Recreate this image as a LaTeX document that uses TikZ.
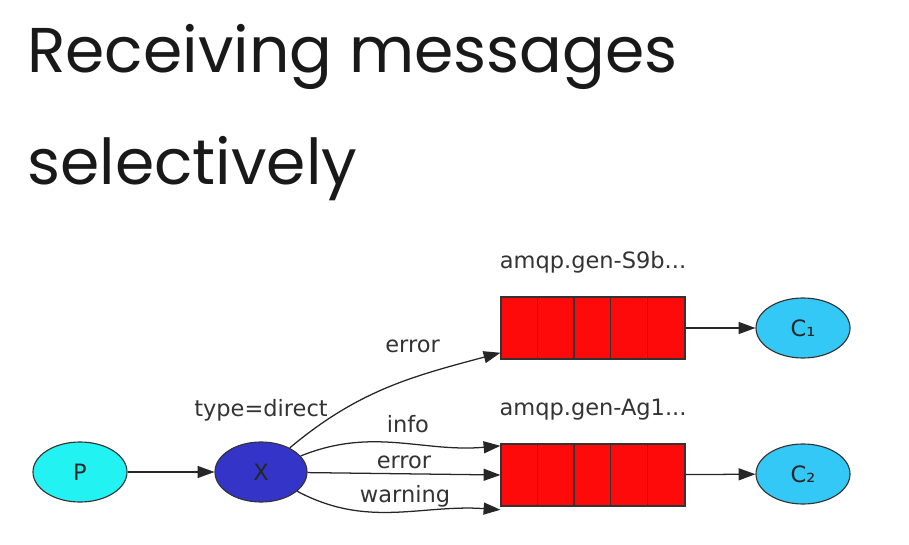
\documentclass[tikz,border=0pt]{standalone}
\usepackage{fontspec}
\setmainfont{DejaVu Sans}
\newfontfamily\titlefont{Poppins}
\usetikzlibrary{shapes.geometric,arrows.meta,positioning}

\definecolor{prodcyan}{HTML}{22F2F2}
\definecolor{exchblue}{HTML}{3434C8}
\definecolor{conscyan}{HTML}{33C8F5}
\definecolor{queuered}{HTML}{FF0A0A}

\begin{document}
\begin{tikzpicture}[
    x=0.025cm, y=-0.025cm,
    peer/.style={ellipse, draw=black!80, line width=0.8pt, minimum width=2.35cm,
                 minimum height=1.5cm, font=\fontsize{16}{19}\selectfont, text=black!85},
    queue/.style={rectangle, draw=black!80, line width=0.8pt, fill=queuered,
                  minimum width=4.6cm, minimum height=1.55cm},
    lbl/.style={font=\fontsize{16}{19}\selectfont, text=black!80, inner sep=2pt},
    link/.style={-{Triangle[length=4.2mm,width=3mm]}, line width=0.9pt, black!85}
  ]
    \useasboundingbox (0,0) rectangle (909,545);

    \node[anchor=base west, align=left, inner sep=0pt,
          font=\titlefont\fontsize{45}{80}\selectfont, text=black!90]
      (title) at (27,185) {Receiving messages\\selectively};

    \node[peer, fill=prodcyan] (p) at (80,472) {P};
    \node[peer, fill=exchblue, minimum width=2.3cm] (x) at (261,472) {X};
    \node[queue] (q1) at (593,328) {};
    \node[queue] (q2) at (593,475) {};
    \node[peer, fill=conscyan] (c1) at (803,328) {C₁};
    \node[peer, fill=conscyan] (c2) at (803,474) {C₂};

    \node[lbl, above=0.42cm of x] (xname) {type=direct};
    \node[lbl, above=0.5cm of q1] (q1name) {amqp.gen-S9b...};
    \node[lbl, above=0.5cm of q2] (q2name) {amqp.gen-Ag1...};

    % cells of the queues
    \foreach \q in {q1,q2}
      \foreach \i in {1,...,4}
        \draw[black!80, line width=0.8pt] ([xshift=\i*0.92cm]\q.north west) -- ([xshift=\i*0.92cm]\q.south west);

    \draw[link] (p) -- (x);
    \draw[link] (x) to[out=40, in=195]
      node[lbl, pos=0.62, above=0.55cm] {error} ([yshift=0.17cm]q1.south west);
    \draw[link] (x) to[out=22, in=185]
      node[lbl, pos=0.55, above=5pt] {info} ([yshift=-0.06cm]q2.north west);
    \draw[link] (x) -- node[lbl, above=1pt] {error} (q2.west);
    \draw[link] (x) to[out=-28, in=176]
      node[lbl, pos=0.55, above=1pt] {warning} ([yshift=-0.08cm]q2.south west);

    \draw[link] (q1) -- (c1);
    \draw[link] (q2) -- (c2);
  \end{tikzpicture}
\end{document}
